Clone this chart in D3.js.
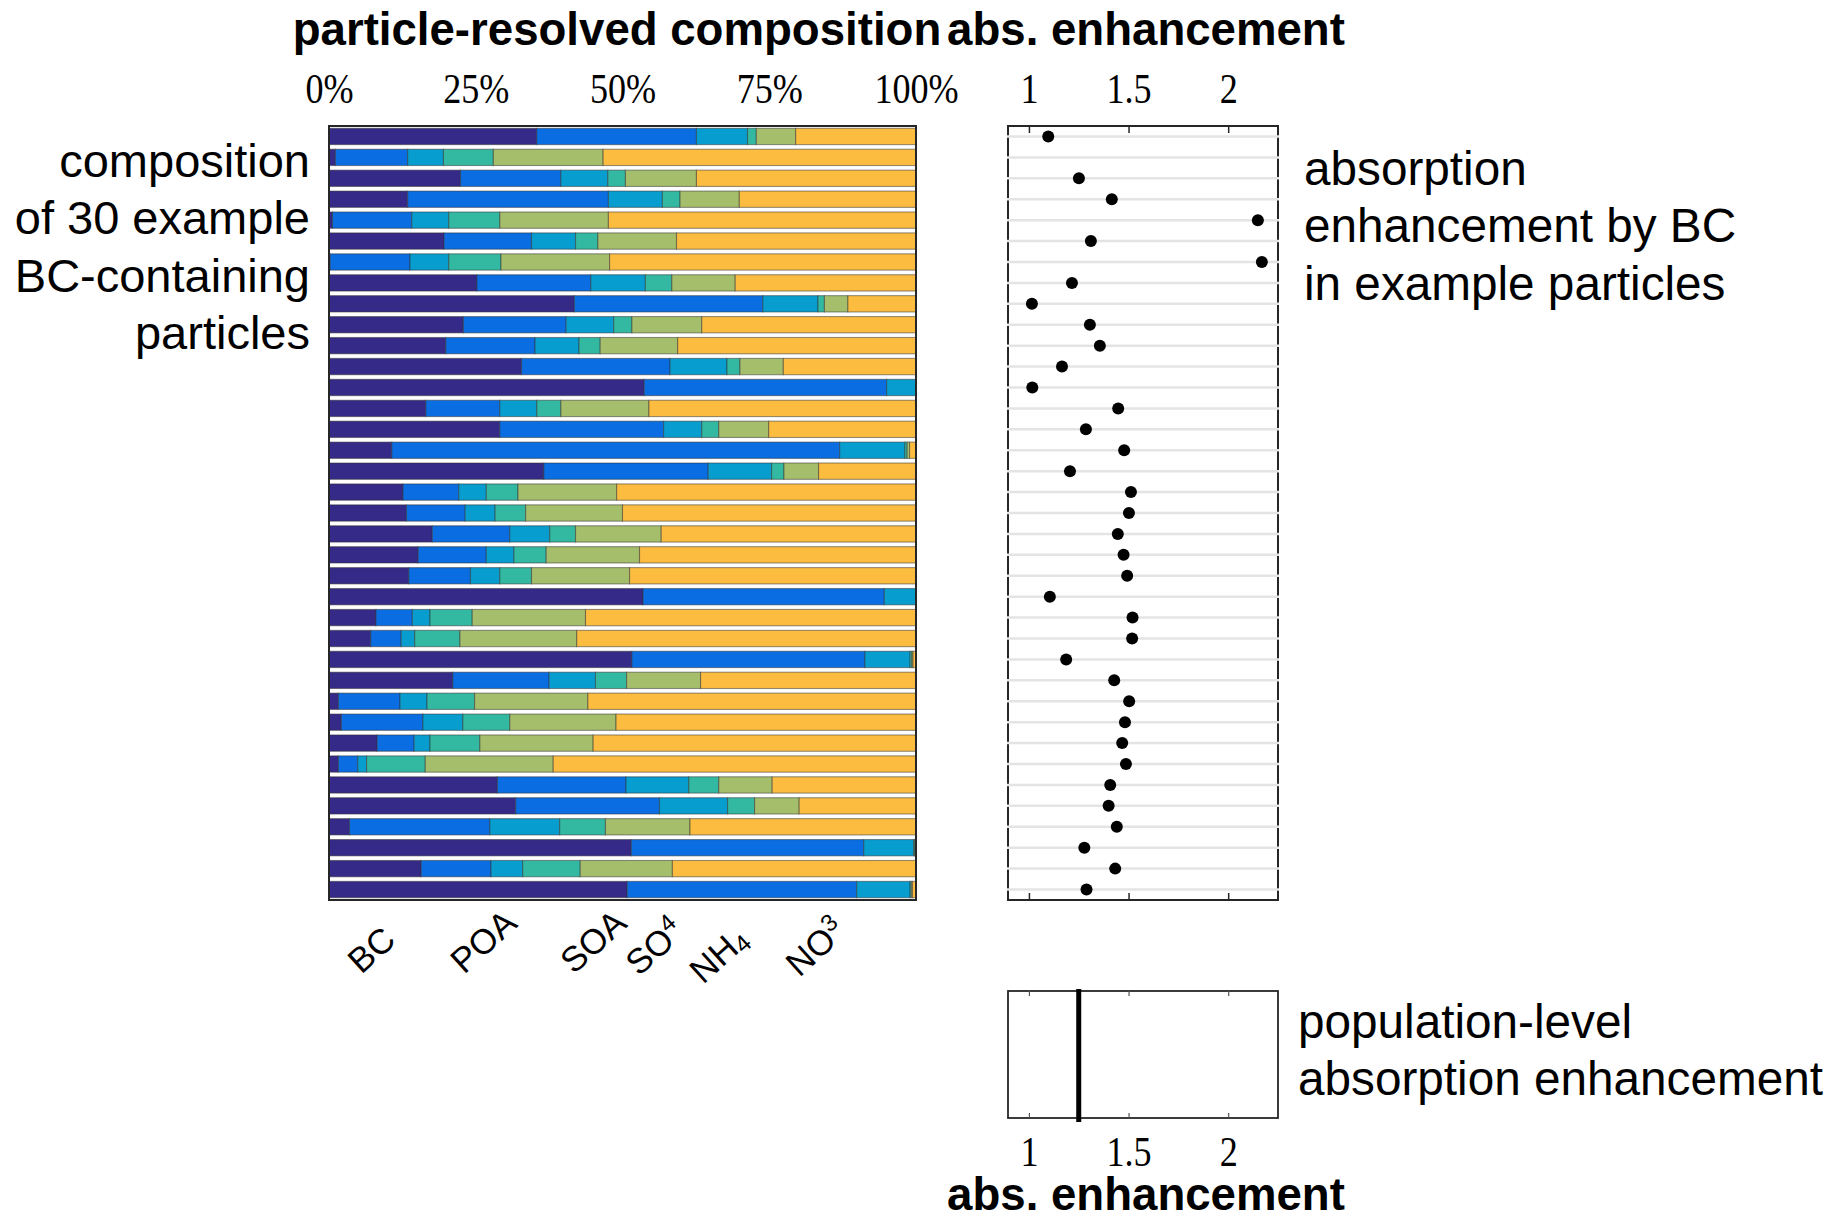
<!DOCTYPE html>
<html>
<head>
<meta charset="utf-8">
<script src="https://cdn.jsdelivr.net/npm/d3@7"></script>
<style>
  body { margin: 0; background: #fff; }
  text { font-family: "Liberation Sans", Arial, sans-serif; fill: #000; }
  .serif text, text.serif { font-family: "Liberation Serif", "Times New Roman", serif; }
</style>
</head>
<body>
<div id="chart"></div>
<script>
// particle ids, top to bottom
const particles = d3.range(1, 38);
const species = ['BC', 'POA', 'SOA', 'SO4', 'NH4', 'NO3'];

// mass fractions (%) per particle
const bc  = [35.4, 1.1, 22.4, 13.4, 0.6, 19.6, 0.2, 25.2, 41.8, 22.9, 19.9, 32.8, 53.7, 16.5, 29.1, 10.7, 36.6, 12.6, 13.2, 17.6, 15.2, 13.6, 53.5, 8.0, 7.1, 51.6, 21.1, 1.6, 2.1, 8.2, 1.6, 28.7, 31.8, 3.5, 51.5, 15.7, 50.8];
const poa = [27.2, 12.3, 17.1, 34.2, 13.5, 14.9, 13.6, 19.4, 32.1, 17.5, 15.2, 25.3, 41.3, 12.6, 27.9, 76.3, 28.0, 9.5, 10.0, 13.2, 11.6, 10.5, 41.1, 6.2, 5.2, 39.7, 16.4, 10.5, 13.9, 6.3, 3.3, 21.9, 24.5, 23.9, 39.6, 11.9, 39.1];
const soa = [8.7, 6.1, 8.0, 9.2, 6.3, 7.5, 6.6, 9.3, 9.4, 8.1, 7.5, 9.7, 5.0, 6.3, 6.5, 11.1, 10.8, 4.7, 5.1, 6.8, 4.7, 5.0, 5.4, 3.0, 2.3, 7.7, 7.9, 4.6, 6.8, 2.7, 1.5, 10.7, 11.6, 11.9, 8.5, 5.4, 9.1];
const so4 = [1.5, 8.5, 3.0, 3.0, 8.7, 3.8, 8.9, 4.5, 1.1, 3.1, 3.6, 2.2, 0, 4.1, 2.9, 0.4, 2.1, 5.4, 5.2, 4.4, 5.5, 5.4, 0, 7.2, 7.7, 0.3, 5.3, 8.1, 8.0, 8.5, 10.0, 5.1, 4.6, 7.8, 0.2, 9.8, 0.2];
const nh4 = [6.7, 18.7, 12.1, 10.1, 18.5, 13.4, 18.5, 10.8, 4.0, 11.9, 13.2, 7.4, 0, 15.0, 8.5, 0.4, 5.9, 16.8, 16.5, 14.6, 15.9, 16.7, 0, 19.3, 19.9, 0.2, 12.6, 19.3, 18.1, 19.3, 21.8, 9.1, 7.6, 14.4, 0.1, 15.7, 0.2];
const no3 = [20.5, 53.3, 37.4, 30.1, 52.4, 40.8, 52.2, 30.8, 11.6, 36.5, 40.6, 22.6, 0, 45.5, 25.1, 1.1, 16.6, 51.0, 50.0, 43.4, 47.1, 48.8, 0, 56.3, 57.8, 0.5, 36.7, 55.9, 51.1, 55.0, 61.8, 24.5, 19.9, 38.5, 0.1, 41.5, 0.6];

// absorption enhancement per particle (row 2 is off the axis range)
const absEnh = [1.097, null, 1.251, 1.416, 2.149, 1.311, 2.169, 1.216, 1.015, 1.306, 1.356, 1.166, 1.017, 1.448, 1.286, 1.478, 1.206, 1.512, 1.502, 1.446, 1.475, 1.493, 1.105, 1.520, 1.518, 1.187, 1.428, 1.503, 1.482, 1.468, 1.487, 1.408, 1.400, 1.441, 1.278, 1.433, 1.289];
const popEnh = 1.25;

const pctTicks = [0, 25, 50, 75, 100];
const enhTicks = [1, 1.5, 2];

const colors = ['#352a87', '#0a6de1', '#079dcf', '#33b8a1', '#a5be6b', '#fbbc40'];

const width = 1830, height = 1215;
const svg = d3.select('#chart').append('svg')
    .attr('width', width)
    .attr('height', height);

const cols = [bc, poa, soa, so4, nh4, no3];
const table = particles.map((p, i) => {
    const row = {id: p};
    species.forEach((s, k) => row[s] = cols[k][i]);
    return row;
});
const stacked = d3.stack().keys(species).offset(d3.stackOffsetExpand)(table);

// ---------- composition bars ----------
const bx0 = 329, bx1 = 916, by0 = 126, by1 = 900;
const x = d3.scaleLinear().domain([0, 1]).range([bx0, bx1]);
const y = d3.scaleBand().domain(particles).range([by0, by1]).paddingInner(0.22).paddingOuter(0.11);

svg.append('g')
    .selectAll('g')
    .data(stacked)
    .join('g')
    .attr('fill', (d, i) => colors[i])
    .selectAll('rect')
    .data(d => d)
    .join('rect')
    .attr('x', d => x(d[0]))
    .attr('y', d => y(d.data.id))
    .attr('width', d => Math.max(0, x(d[1]) - x(d[0])))
    .attr('height', y.bandwidth())
    .attr('stroke', 'rgba(50,50,50,0.5)')
    .attr('stroke-width', 1.1);

svg.append('rect')
    .attr('x', bx0).attr('y', by0)
    .attr('width', bx1 - bx0).attr('height', by1 - by0)
    .attr('fill', 'none')
    .attr('stroke', '#262626')
    .attr('stroke-width', 2);

const pctAxis = svg.append('g')
    .attr('class', 'serif')
    .attr('transform', 'translate(0,' + by0 + ')')
    .call(d3.axisTop(x)
        .tickValues(pctTicks.map(d => d / 100))
        .tickFormat(d => Math.round(d * 100) + '%')
        .tickSize(0)
        .tickPadding(23));
pctAxis.select('.domain').remove();
pctAxis.selectAll('text')
    .attr('font-size', 42)
    .attr('fill', '#262626')
    .attr('transform', 'scale(0.86,1)');

// species labels under the bars
const labelAt = [0.055, 0.23, 0.417, 0.528, 0.637, 0.801];
const labelDy = [0, 0, 0, 2, 10, 3];
const subs = {SO4: ['SO', '4', -13], NH4: ['NH', '4', 4], NO3: ['NO', '3', -13]};
species.forEach((s, i) => {
    const t = svg.append('text')
        .attr('transform', 'translate(' + x(labelAt[i]) + ',' + (975 + labelDy[i]) + ') rotate(-42)')
        .attr('font-size', 35);
    if (subs[s]) {
        t.append('tspan').text(subs[s][0]);
        t.append('tspan').text(subs[s][1])
            .attr('font-size', 24)
            .attr('dy', subs[s][2]);
    } else {
        t.text(s);
    }
});

// ---------- absorption enhancement dots ----------
const ex0 = 1008, ex1 = 1278;
const xe = d3.scaleLinear().domain([0.895, 2.25]).range([ex0, ex1]);

svg.append('rect')
    .attr('x', ex0).attr('y', by0)
    .attr('width', ex1 - ex0).attr('height', by1 - by0)
    .attr('fill', 'none')
    .attr('stroke', '#262626')
    .attr('stroke-width', 2);

svg.append('g')
    .selectAll('line')
    .data(particles)
    .join('line')
    .attr('x1', ex0 - 1).attr('x2', ex1 + 1)
    .attr('y1', d => y(d) + y.bandwidth() / 2)
    .attr('y2', d => y(d) + y.bandwidth() / 2)
    .attr('stroke', '#e4e4e4')
    .attr('stroke-width', 2.5);

const topEnh = svg.append('g')
    .attr('class', 'serif')
    .attr('transform', 'translate(0,' + by0 + ')')
    .call(d3.axisTop(xe).tickValues(enhTicks).tickFormat(d3.format('')).tickSize(-7).tickPadding(23));
topEnh.select('.domain').remove();
topEnh.selectAll('line').attr('stroke', '#262626').attr('stroke-width', 1.5);
topEnh.selectAll('text').attr('font-size', 42).attr('fill', '#262626').attr('transform', 'scale(0.86,1)');

const botEnh = svg.append('g')
    .attr('transform', 'translate(0,' + by1 + ')')
    .call(d3.axisBottom(xe).tickValues(enhTicks).tickFormat('').tickSize(-7));
botEnh.select('.domain').remove();
botEnh.selectAll('line').attr('stroke', '#262626').attr('stroke-width', 1.5);

svg.append('g')
    .selectAll('circle')
    .data(particles.filter((p, i) => absEnh[i] != null))
    .join('circle')
    .attr('cx', d => xe(absEnh[d - 1]))
    .attr('cy', d => y(d) + y.bandwidth() / 2)
    .attr('r', 6)
    .attr('fill', '#000');

// ---------- population-level box ----------
const py0 = 991, py1 = 1118;
svg.append('rect')
    .attr('x', ex0).attr('y', py0)
    .attr('width', ex1 - ex0).attr('height', py1 - py0)
    .attr('fill', 'none')
    .attr('stroke', '#262626')
    .attr('stroke-width', 1.8);

const popTop = svg.append('g')
    .attr('transform', 'translate(0,' + py0 + ')')
    .call(d3.axisTop(xe).tickValues(enhTicks).tickFormat('').tickSize(-5));
popTop.select('.domain').remove();
popTop.selectAll('line').attr('stroke', '#555').attr('stroke-width', 1.2);

const popBot = svg.append('g')
    .attr('class', 'serif')
    .attr('transform', 'translate(0,' + py1 + ')')
    .call(d3.axisBottom(xe).tickValues(enhTicks).tickFormat(d3.format('')).tickSize(-5).tickPadding(18));
popBot.select('.domain').remove();
popBot.selectAll('line').attr('stroke', '#555').attr('stroke-width', 1.2);
popBot.selectAll('text').attr('font-size', 42).attr('fill', '#262626').attr('transform', 'scale(0.86,1)');

svg.append('line')
    .attr('x1', xe(popEnh)).attr('x2', xe(popEnh))
    .attr('y1', py0 - 2).attr('y2', py1 + 4)
    .attr('stroke', '#000')
    .attr('stroke-width', 5);

// ---------- titles and annotations ----------
svg.append('text')
    .attr('x', 617).attr('y', 45)
    .attr('text-anchor', 'middle')
    .attr('font-size', 45.6).attr('font-weight', 'bold')
    .text('particle-resolved composition');
svg.append('text')
    .attr('x', 1146).attr('y', 45)
    .attr('text-anchor', 'middle')
    .attr('font-size', 45.6).attr('font-weight', 'bold')
    .text('abs. enhancement');
svg.append('text')
    .attr('x', 1146).attr('y', 1210)
    .attr('text-anchor', 'middle')
    .attr('font-size', 45.6).attr('font-weight', 'bold')
    .text('abs. enhancement');

const leftLines = ['composition', 'of 30 example', 'BC-containing', 'particles'];
svg.append('g').selectAll('text')
    .data(leftLines)
    .join('text')
    .attr('x', 310)
    .attr('y', (d, i) => 177 + i * 57.3)
    .attr('text-anchor', 'end')
    .attr('font-size', 47)
    .text(d => d);

const rightLines = ['absorption', 'enhancement by BC', 'in example particles'];
svg.append('g').selectAll('text')
    .data(rightLines)
    .join('text')
    .attr('x', 1304)
    .attr('y', (d, i) => 185 + i * 57.3)
    .attr('font-size', 47.7)
    .text(d => d);

const popLines = ['population-level', 'absorption enhancement'];
svg.append('g').selectAll('text')
    .data(popLines)
    .join('text')
    .attr('x', 1298)
    .attr('y', (d, i) => 1038 + i * 57.3)
    .attr('font-size', 47.7)
    .text(d => d);
</script>
</body>
</html>
